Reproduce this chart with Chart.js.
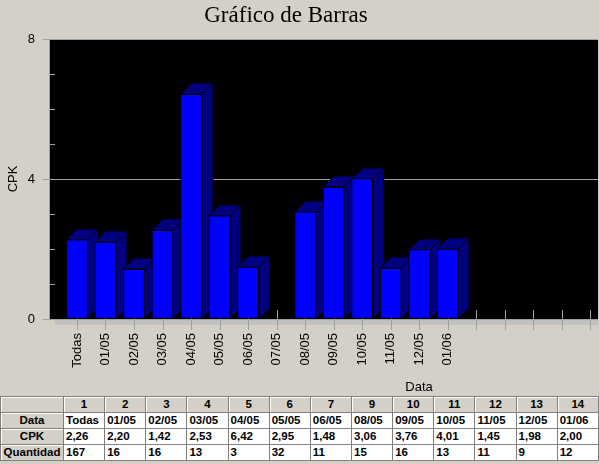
<!DOCTYPE html>
<html>
<head>
<meta charset="utf-8">
<script src="https://cdn.jsdelivr.net/npm/chart.js@4.4.1/dist/chart.umd.min.js"></script>
<style>
  html, body { margin: 0; padding: 0; background: #d4d0c8; width: 599px; height: 464px; overflow: hidden; }
  #wrap { position: absolute; left: 0; top: 0; width: 599px; height: 396px; }
  #tbl { position: absolute; left: 0; top: 396px; width: 599px; border-collapse: collapse; table-layout: fixed;
         font: bold 11.5px "Liberation Sans", Arial, sans-serif; color: #000; }
  #tbl td { border: 1px solid #808080; height: 15px; padding: 0 2px; background: #fff; white-space: nowrap; overflow: hidden; line-height: 15px; }
  #tbl td.hd { background: #d4d0c8; text-align: center; box-shadow: inset 1px 1px #fff; }
</style>
</head>
<body>
<div id="wrap"><canvas id="barChart"></canvas></div>
<table id="tbl"></table>
<script>
// --- data ---
const axisLabels = ["Todas", "01/05", "02/05", "03/05", "04/05", "05/05", "06/05", "07/05",
  "08/05", "09/05", "10/05", "11/05", "12/05", "01/06", "", "", "", "", ""];
const colNumbers = [1, 2, 3, 4, 5, 6, 7, 9, 10, 11, 12, 13, 14];
const colDates = ["Todas", "01/05", "02/05", "03/05", "04/05", "05/05", "06/05",
  "08/05", "09/05", "10/05", "11/05", "12/05", "01/06"];
const colCpk = [2.26, 2.20, 1.42, 2.53, 6.42, 2.95, 1.48, 3.06, 3.76, 4.01, 1.45, 1.98, 2.00];
const colQty = [167, 16, 16, 13, 3, 32, 11, 15, 16, 13, 11, 9, 12];
const yLabelTicks = [0, 4, 8];

// one value per axis slot, empty where there is no date in the table
const cpkValues = axisLabels.map(l => {
  const i = colDates.indexOf(l);
  return i >= 0 ? colCpk[i] : null;
});

const axisFont = { family: "'Liberation Sans', Arial, sans-serif", size: 13 };
const DEPTH = 11;

// black plot area, floor strip, titles, tick marks and 3D faces of the bars
const decor = {
  id: "decor",
  beforeDraw(chart) {
    const { ctx, chartArea: a } = chart;
    ctx.save();
    ctx.fillStyle = "#000";
    ctx.fillRect(a.left, a.top, a.right - a.left, a.bottom - a.top);
    ctx.fillStyle = "#c0c0c0";
    ctx.fillRect(a.left + 6, a.bottom, a.right - a.left - 6, 6);
    ctx.fillStyle = "#000";
    ctx.textAlign = "center";
    ctx.textBaseline = "alphabetic";
    ctx.font = "23px 'Liberation Serif', 'Times New Roman', serif";
    ctx.fillText("Gráfico de Barras", 286, 22);
    ctx.font = "13px 'Liberation Sans', Arial, sans-serif";
    ctx.fillText("Data", 419, 391);
    ctx.restore();
  },
  beforeDatasetsDraw(chart) {
    const { ctx, chartArea: a } = chart;
    const xs = chart.scales.x, ys = chart.scales.y;
    ctx.save();
    ctx.strokeStyle = "#a0a0a0";
    ctx.lineWidth = 1;
    ctx.beginPath();
    xs.ticks.forEach(t => {
      const px = Math.round(xs.getPixelForValue(t.value)) + 0.5;
      ctx.moveTo(px, a.bottom - 9);
      ctx.lineTo(px, a.bottom + 11);
    });
    ys.ticks.forEach(t => {
      if (yLabelTicks.includes(t.value)) return;
      const py = Math.round(ys.getPixelForValue(t.value)) + 0.5;
      ctx.moveTo(a.left, py);
      ctx.lineTo(a.left + 6, py);
    });
    ctx.stroke();

    const meta = chart.getDatasetMeta(0);
    ctx.fillStyle = "#000080";
    ctx.strokeStyle = "#000";
    meta.data.forEach((bar, i) => {
      if (cpkValues[i] === null) return;
      const { x, y, base, width } = bar.getProps(["x", "y", "base", "width"], true);
      const l = Math.round(x - width / 2), r = Math.round(x + width / 2);
      const t = Math.round(y), b = Math.round(base);
      // side
      ctx.beginPath();
      ctx.moveTo(r, t);
      ctx.lineTo(r + DEPTH, t - DEPTH);
      ctx.lineTo(r + DEPTH, b - DEPTH);
      ctx.lineTo(r, b);
      ctx.closePath();
      ctx.fill();
      ctx.stroke();
      // top
      ctx.beginPath();
      ctx.moveTo(l, t);
      ctx.lineTo(l + DEPTH, t - DEPTH);
      ctx.lineTo(r + DEPTH, t - DEPTH);
      ctx.lineTo(r, t);
      ctx.closePath();
      ctx.fill();
      ctx.stroke();
    });
    ctx.restore();
  }
};

const ctx = document.getElementById("barChart").getContext("2d");
new Chart(ctx, {
  type: "bar",
  data: {
    datasets: [{
      label: "CPK",
      data: cpkValues.map((v, i) => ({ x: i, y: v })),
      backgroundColor: "#0000ff",
      borderColor: "#000",
      borderWidth: 1,
      borderSkipped: false,
      barThickness: 21,
    }],
  },
  options: {
    responsive: true,
    maintainAspectRatio: false,
    animation: false,
    layout: { padding: { top: 39, right: 1, left: 0, bottom: 0 } },
    plugins: { legend: { display: false }, tooltip: { enabled: false }, title: { display: false } },
    scales: {
      x: {
        type: "linear",
        offset: false,
        min: -0.98,
        max: 18.27,
        afterBuildTicks: s => { s.ticks = axisLabels.map((l, i) => ({ value: i })); },
        ticks: {
          callback: v => axisLabels[v],
          minRotation: 90, maxRotation: 90, autoSkip: false,
          padding: 14, color: "#000", font: axisFont,
        },
        grid: { display: false, drawTicks: false, offset: false },
        border: { display: false },
        afterFit: s => { s.height = 77; s.paddingLeft = 0; s.paddingRight = 0; },
      },
      y: {
        min: 0, max: 8,
        ticks: {
          stepSize: 1,
          callback: v => yLabelTicks.includes(v) ? String(v) : "",
          padding: 8, color: "#000", font: axisFont,
        },
        grid: {
          color: c => yLabelTicks.includes(c.tick && c.tick.value) ? "#a0a0a0" : "rgba(0,0,0,0)",
          tickLength: 6,
        },
        border: { display: true, color: "#a0a0a0" },
        title: { display: true, text: "CPK", color: "#000", font: axisFont, padding: { top: 6, bottom: 0 } },
        afterFit: s => { s.width = 49; },
      },
    },
  },
  plugins: [decor],
});

// table under the chart
const fmt = v => v.toFixed(2).replace(".", ",");
let html = '<colgroup><col style="width:63px">' + colNumbers.map(() => "<col>").join("") + "</colgroup>";
html += '<tr><td class="hd"></td>' + colNumbers.map(n => `<td class="hd">${n}</td>`).join("") + "</tr>";
html += '<tr><td class="hd">Data</td>' + colDates.map(d => `<td>${d}</td>`).join("") + "</tr>";
html += '<tr><td class="hd">CPK</td>' + colCpk.map(v => `<td>${fmt(v)}</td>`).join("") + "</tr>";
html += '<tr><td class="hd">Quantidad</td>' + colQty.map(q => `<td>${q}</td>`).join("") + "</tr>";
document.getElementById("tbl").innerHTML = html;
</script>
</body>
</html>
